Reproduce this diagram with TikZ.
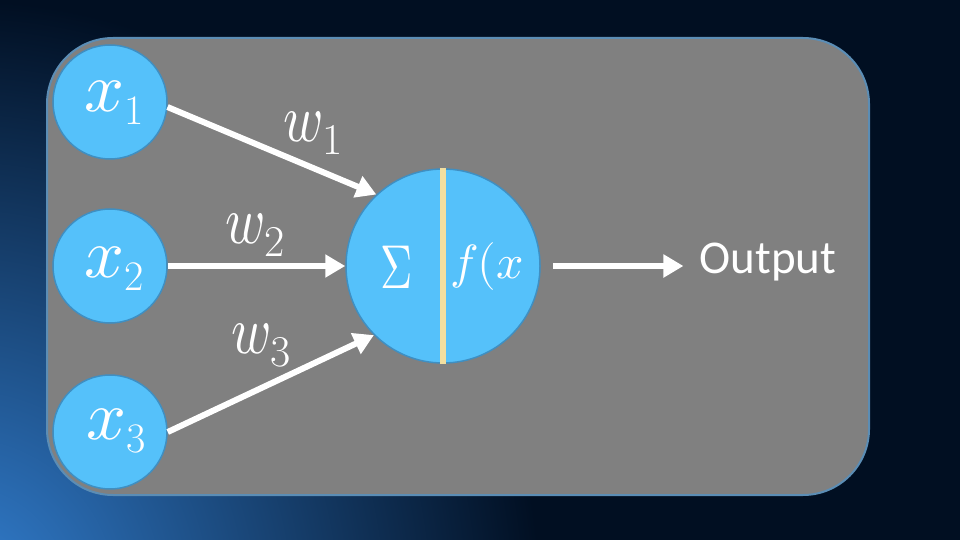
\documentclass[tikz,border=0pt]{standalone}
\usepackage{fontspec}
\usepackage{unicode-math}
\setmathfont{Latin Modern Math}
\newfontfamily\outfont{Carlito}
\usetikzlibrary{arrows.meta}
\definecolor{bgnavy}{HTML}{010F22}
\definecolor{glowblue}{HTML}{3380D2}
\definecolor{panelgray}{HTML}{808080}
\definecolor{panelline}{HTML}{5B8DB5}
\definecolor{nodeblue}{HTML}{55C1FA}
\definecolor{nodeline}{HTML}{3F8FC2}
\definecolor{divider}{HTML}{F2DFA0}
\newcommand{\xsub}[1]{{\fontsize{70}{70}\selectfont$x$}\raisebox{-13pt}{\fontsize{42}{42}\selectfont #1}}
\newcommand{\wsub}[1]{\scalebox{0.8}[1]{\fontsize{68}{68}\selectfont$w$}\raisebox{-13pt}{\fontsize{44}{44}\selectfont #1}}
\tikzset{
  inputnode/.style={circle, fill=nodeblue, draw=nodeline, line width=1.5pt,
    minimum size=114pt, inner sep=0pt},
  neuron/.style={circle, fill=nodeblue, draw=nodeline, line width=1.5pt,
    minimum size=194pt, inner sep=0pt},
  lbl/.style={text=white, inner sep=0pt, anchor=base west},
  inlabel/.style={text=white, inner sep=0pt},
  arr/.style={draw=white, line width=6pt, -{Triangle[length=20pt,width=22pt]}},
}
\begin{document}
\begin{tikzpicture}[x=1pt,y=-1pt]
\useasboundingbox (0,0) rectangle (960,540);
% background
\fill[bgnavy] (0,0) rectangle (960,540);
\shade[inner color=glowblue, outer color=bgnavy] (-40,600) ellipse (580pt and 600pt);
% panel
\filldraw[fill=panelgray, draw=panelline, line width=2pt, rounded corners=66pt]
  (47,38) rectangle (869,495);
% input nodes
\node[inputnode] (x1) at (110,102) {};
\node[inputnode] (x2) at (110,266) {};
\node[inputnode] (x3) at (110,432) {};
\node[lbl] (x1l) at (84,112) {\xsub{1}};
\node[lbl] (x2l) at (84,277) {\xsub{2}};
\node[lbl] (x3l) at (86,439) {\xsub{3}};
% neuron
\node[neuron] (n) at (443,266) {};
\draw[divider, line width=6pt] (n.north) -- (n.south);
\node[inlabel] (sig) at (397,267) {\scalebox{0.72}[1]{\fontsize{62}{62}\selectfont$\Sigma$}};
\node[inlabel, font=\fontsize{48}{48}\selectfont] (fx) at (487,266) {$f($$x$};
% weights
\begin{scope}
  \clip (0,0) rectangle (339,540);
  \node[lbl] (w1) at (283,142) {\wsub{1}};
\end{scope}
\begin{scope}
  \clip (0,0) rectangle (282,540);
  \node[lbl] (w2) at (225,243) {\wsub{2}};
\end{scope}
\begin{scope}
  \clip (0,0) rectangle (288,540);
  \node[lbl] (w3) at (231,353) {\wsub{3}};
\end{scope}
% output
\node[text=white, inner sep=0pt, font=\outfont\fontsize{47}{47}\selectfont] (out) at (768,262) {Output};
% connectors
\draw[arr] (x1.-5) -- (n.133);
\draw[arr] (x2.east) -- (n.west);
\draw[arr] (x3.east) -- (n.-135);
\draw[arr] ([xshift=12pt]n.east) -- ([xshift=-16pt]out.west |- n.east);
\end{tikzpicture}
\end{document}
